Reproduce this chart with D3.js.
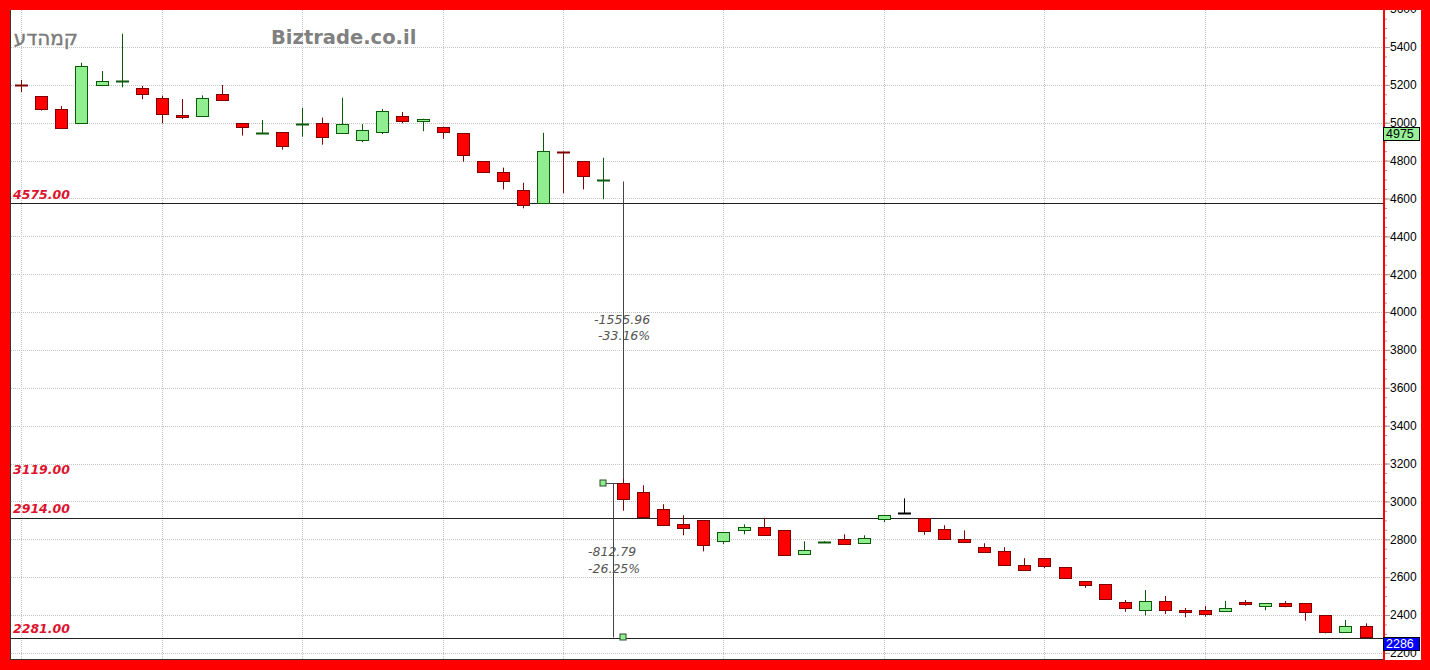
<!DOCTYPE html>
<html><head><meta charset="utf-8">
<script src="https://cdn.jsdelivr.net/npm/d3@7"></script>
<style>html,body{margin:0;padding:0;background:#ff0000;overflow:hidden}svg{display:block}</style>
</head><body>
<svg id="c" width="1430" height="670"></svg>
<script>
// ---- data (daily candles) ----
const opens  = [5198,5140,5073,4997,5201,5215,5182,5129,5041,5034,5152,4999,4946,4949,4989,4999,4944,4907,4949,5036,5009,4979,4946,4798,4740,4645,4575,4848,4796,4695,
                3099,3051,2958,2881,2900,2793,2849,2863,2847,2721,2786,2800,2779,2909,2937,2912,2853,2801,2758,2738,2663,2700,2652,2578,2562,2467,2428,2472,2426,2426,2420,2469,2449,2462,2462,2398,2309,2340];
const highs  = [5226,5140,5088,5317,5273,5470,5194,5143,5125,5145,5199,4999,5014,4949,5079,5027,5132,4993,5073,5057,5021,4979,4946,4798,4763,4683,4947,4848,4796,4815,
                3119,3085,2985,2927,2900,2837,2879,2913,2847,2789,2790,2826,2821,2927,3016,2912,2874,2847,2779,2758,2700,2700,2652,2578,2562,2479,2532,2500,2437,2448,2474,2479,2462,2473,2462,2398,2374,2356];
const lows   = [5162,5064,4969,4997,5201,5187,5124,4997,5020,5034,5118,4932,4946,4858,4926,4884,4944,4897,4940,4997,4955,4916,4794,4738,4648,4548,4575,4627,4648,4596,
                2951,2916,2877,2821,2736,2775,2826,2824,2712,2721,2784,2770,2779,2891,2937,2824,2801,2787,2735,2659,2640,2648,2597,2543,2486,2417,2397,2405,2388,2391,2420,2449,2425,2441,2370,2303,2309,2282];
const closes = [5195,5071,4974,5298,5220,5218,5150,5045,5029,5129,5118,4976,4948,4876,4991,4926,4992,4962,5062,5008,5021,4949,4831,4738,4692,4566,4851,4845,4719,4697,
                3011,2916,2877,2861,2771,2837,2863,2824,2717,2742,2788,2777,2805,2927,2937,2845,2801,2787,2735,2666,2640,2659,2597,2560,2486,2435,2472,2424,2414,2407,2436,2457,2462,2446,2417,2312,2340,2286];
const monthStartIdx = [0,7,14,21,27,35,43,51,59];
const yTickValues = [2200,2400,2600,2800,3000,3200,3400,3600,3800,4000,4200,4400,4600,4800,5000,5200,5400,5600];
const levelLines  = [4575,2914,2281];
const levelLabels = ["4575.00","3119.00","2914.00","2281.00"];
const levelLabelValues = [4575,3119,2914,2281];
const measureTexts1 = ["-1555.96","-33.16%"];
const measureTexts2 = ["-812.79","-26.25%"];
const priceTags = [{v:4975,label:"4975"},{v:2286,label:"2286"}];
const stockName = "קמהדע";
const siteName = "Biztrade.co.il";

// ---- layout ----
const svg = d3.select("#c");
const PL=11, PT=10, PR=1383, PB=659;
const y = d3.scaleLinear().domain([2400,5400]).range([615,47]);
const x = d3.scaleLinear().domain([0,67]).range([21.3,1365.5]);
const cx = i => Math.round(x(i)) + 0.5;
const cy = v => Math.round(y(v)) + 0.5;

svg.append("rect").attr("width",1430).attr("height",670).attr("fill","#ff0000");
svg.append("rect").attr("x",PL).attr("y",PT).attr("width",PR-PL).attr("height",PB-PT).attr("fill","#fff");
svg.append("rect").attr("x",PR+2).attr("y",PT).attr("width",36).attr("height",PB-PT+1).attr("fill","#fff");

svg.append("defs").append("clipPath").attr("id","pc").append("rect")
  .attr("x",PL).attr("y",PT).attr("width",PR-PL).attr("height",PB-PT);
const plot = svg.append("g").attr("clip-path","url(#pc)");

// grid
plot.selectAll(".hg").data(yTickValues).join("line")
  .attr("x1",PL).attr("x2",PR).attr("y1",d=>cy(d)).attr("y2",d=>cy(d))
  .attr("stroke","#c4c4c4").attr("stroke-dasharray","1,1");
plot.selectAll(".vg").data(monthStartIdx).join("line")
  .attr("x1",d=>cx(d)).attr("x2",d=>cx(d)).attr("y1",PT).attr("y2",PB)
  .attr("stroke","#c4c4c4").attr("stroke-dasharray","1,1");

// level lines
plot.selectAll(".lv").data(levelLines).join("line")
  .attr("x1",PL).attr("x2",PR).attr("y1",d=>cy(d)).attr("y2",d=>cy(d))
  .attr("stroke","#222").attr("stroke-width",1);

// titles
plot.append("text").attr("x",78).attr("y",45).attr("text-anchor","end")
  .attr("font-family","DejaVu Sans").attr("font-size",20).attr("fill","#7a7a7a")
  .attr("stroke","#7a7a7a").attr("stroke-width",0.4)
  .text(stockName);
plot.append("text").attr("x",271).attr("y",44).attr("font-family","DejaVu Sans")
  .attr("font-weight","bold").attr("font-size",19.5).attr("fill","#808080").text(siteName);

// level labels
plot.selectAll(".ll").data(levelLabels).join("text")
  .attr("x",13).attr("y",(d,i)=>y(levelLabelValues[i])-4.5)
  .attr("font-family","DejaVu Sans").attr("font-weight","bold").attr("font-style","italic")
  .attr("font-size",12.5).attr("fill","#dc1430").text(d=>d);

// measurement tool 1
const mIdxA = 29, mIdxB = 30;
plot.append("line").attr("x1",cx(mIdxB)).attr("x2",cx(mIdxB)).attr("y1",cy(4692)).attr("y2",cy(3097))
  .attr("stroke","#444");
plot.append("text").attr("x",594).attr("y",324).attr("font-family","DejaVu Sans").attr("font-style","italic")
  .attr("font-size",12.5).attr("fill","#555").text(measureTexts1[0]);
plot.append("text").attr("x",598).attr("y",340).attr("font-family","DejaVu Sans").attr("font-style","italic")
  .attr("font-size",12.5).attr("fill","#555").text(measureTexts1[1]);

// measurement tool 2
const midX = Math.round((x(mIdxA)+x(mIdxB))/2)+0.5;
plot.append("line").attr("x1",cx(mIdxA)).attr("x2",cx(mIdxB)).attr("y1",cy(3097)).attr("y2",cy(3097)).attr("stroke","#444");
plot.append("line").attr("x1",midX).attr("x2",midX).attr("y1",cy(3097)).attr("y2",cy(2283)).attr("stroke","#444");
plot.append("text").attr("x",588).attr("y",556).attr("font-family","DejaVu Sans").attr("font-style","italic")
  .attr("font-size",12.5).attr("fill","#555").text(measureTexts2[0]);
plot.append("text").attr("x",588).attr("y",573).attr("font-family","DejaVu Sans").attr("font-style","italic")
  .attr("font-size",12.5).attr("fill","#555").text(measureTexts2[1]);

// candles
const data = opens.map((o,i)=>({i,o,h:highs[i],l:lows[i],c:closes[i]}));
const g = plot.append("g");
data.forEach(d=>{
  const up = d.c > d.o, flat = d.c === d.o;
  const dark = flat ? "#000" : (up ? "#0a5a0a" : "#800000");
  const fill = up ? "#90ee90" : "#ff0000";
  const X = cx(d.i);
  g.append("line").attr("x1",X).attr("x2",X).attr("y1",y(d.h)).attr("y2",y(d.l)).attr("stroke",dark);
  const top = Math.round(y(Math.max(d.o,d.c))), bot = Math.round(y(Math.min(d.o,d.c)));
  if (bot - top < 2) {
    g.append("line").attr("x1",X-6.5).attr("x2",X+6.5).attr("y1",top+0.5).attr("y2",top+0.5)
      .attr("stroke",dark).attr("stroke-width",2);
  } else {
    g.append("rect").attr("x",X-6).attr("y",top+0.5).attr("width",12).attr("height",bot-top)
      .attr("fill",fill).attr("stroke",dark);
  }
});

// markers
plot.selectAll(".mk").data([[mIdxA,3097],[mIdxB,2283]]).join("rect")
  .attr("x",d=>cx(d[0])-3.5).attr("y",d=>cy(d[1])-3.5).attr("width",6).attr("height",6)
  .attr("fill","#90ee90").attr("stroke","#2a4a2a");

// border
svg.append("rect").attr("x",PL-0.5).attr("y",PT-0.5).attr("width",PR-PL+1).attr("height",PB-PT+1)
  .attr("fill","none").attr("stroke","#333");

// right axis
const ax = svg.append("g").attr("transform",`translate(${PR+1},0)`);
ax.call(d3.axisRight(y).tickValues(d3.range(2200,5651,50)).tickSize(3).tickFormat(""))
  .call(g=>g.select(".domain").remove())
  .call(g=>g.selectAll("line").attr("stroke","#999"));
const ax2 = svg.append("g").attr("transform",`translate(${PR+1},0)`);
ax2.call(d3.axisRight(y).tickValues(yTickValues).tickSize(6).tickPadding(0).tickFormat(d3.format("d")))
  .call(g=>g.select(".domain").remove())
  .call(g=>g.selectAll("line").attr("stroke","#999"))
  .call(g=>g.selectAll("text").attr("font-family","Liberation Sans").attr("font-size",12).attr("fill","#000").attr("x",6));
svg.append("line").attr("x1",PR+1).attr("x2",PR+1).attr("y1",0).attr("y2",670).attr("stroke","#ff0000").attr("stroke-width",2);

// price tags
const tg = svg.selectAll(".pt").data(priceTags).join("g")
  .attr("transform",d=>`translate(${PR},${Math.round(y(d.v))})`);
tg.append("rect").attr("x",0.5).attr("y",0.5).attr("width",36).attr("height",13)
  .attr("fill",(d,i)=>i===0?"#98f098":"#0000ff").attr("stroke","#000");
tg.append("text").attr("x",3).attr("y",11).attr("font-family","Liberation Sans").attr("font-size",12.5)
  .attr("fill",(d,i)=>i===0?"#000":"#fff").text(d=>d.label);

// outer red frame
svg.append("rect").attr("x",0).attr("y",0).attr("width",1430).attr("height",PT).attr("fill","#ff0000");
svg.append("rect").attr("x",0).attr("y",PB+1).attr("width",1430).attr("height",670-PB-1).attr("fill","#ff0000");
svg.append("rect").attr("x",1421).attr("y",0).attr("width",9).attr("height",670).attr("fill","#ff0000");
</script>
</body></html>
